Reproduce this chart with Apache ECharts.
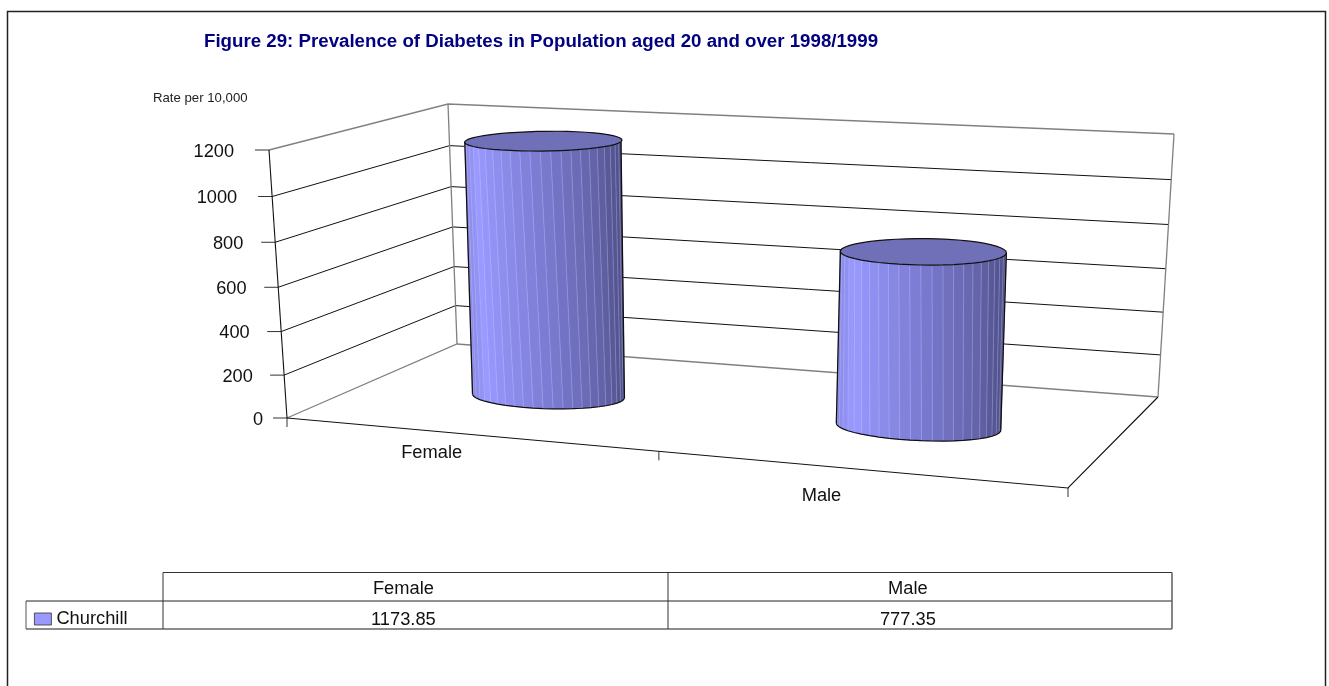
<!DOCTYPE html>
<html>
<head>
<meta charset="utf-8">
<style>html,body{margin:0;padding:0;background:#fff}#c{width:1329px;height:686px}</style>
<script src="https://cdn.jsdelivr.net/npm/echarts@6/dist/echarts.min.js"></script>
</head>
<body>
<div id="c"></div>
<script>
const categories = ['Female', 'Male'];
const seriesName = 'Churchill';
const values = [1173.85, 777.35];
const yTicks = [0, 200, 400, 600, 800, 1000, 1200];
const titleText = 'Figure 29: Prevalence of Diabetes in Population aged 20 and over 1998/1999';
const yAxisName = 'Rate per 10,000';

const FONT = '"Liberation Sans", Arial, sans-serif';
const GRID = { left: 287, top: 150, width: 781, height: 268 };

// Corners of the perspective box on screen: f/b front/back, l/r left/right, b/t bottom/top
const BOX = {
  flb: [287, 418], frb: [1068, 488], blb: [457, 344], brb: [1158, 397],
  flt: [269, 150], frt: [1083, 188], blt: [448, 104], brt: [1174, 134]
};
const lerp = (a, b, f) => a + (b - a) * f;
const lerpP = (p, q, f) => [lerp(p[0], q[0], f), lerp(p[1], q[1], f)];

// u: 0-1 across categories, t: 0-1 up the value axis, d: 0 front, 1 back
function project(u, t, d) {
  const k = 0.1 * (1 - d);
  const uw = u / (1 + k * (1 - u));
  const tw = t / (1 + 0.05 * (1 - t));
  const bot = lerpP(lerpP(BOX.flb, BOX.frb, uw), lerpP(BOX.blb, BOX.brb, uw), d);
  const top = lerpP(lerpP(BOX.flt, BOX.frt, uw), lerpP(BOX.blt, BOX.brt, uw), d);
  return lerpP(bot, top, tw);
}
function toUT(px, cs) {
  return [(px[0] - cs.x) / cs.width, (cs.y + cs.height - px[1]) / cs.height];
}
const line = (pts, stroke, lineWidth) => ({
  type: 'polyline', shape: { points: pts }, style: { stroke, lineWidth, fill: null }
});
const text = (str, x, y, align, size) => ({
  type: 'text',
  style: { text: str, x, y, textAlign: align, textVerticalAlign: 'middle', fontSize: size, fontFamily: FONT, fill: '#111' }
});

// Value-axis gridlines, ticks and labels
function renderGridline(params, api) {
  const cs = params.coordSys;
  const val = api.value(1);
  const t = toUT(api.coord([0, val]), cs)[1];
  const edge = val === yTicks[0] || val === yTicks[yTicks.length - 1];
  const a = project(0, t, 0), b = project(0, t, 1), c = project(1, t, 1);
  const lab = String(val);
  const right = 234 + 19 * (1 - t) + (lab.length === 3 ? 3 : 0) + (lab.length === 1 ? 10 : 0);
  return {
    type: 'group',
    children: [
      line([a, b, c], edge ? '#808080' : '#111', edge ? 1.3 : 1),
      line([a, [a[0] - 14, a[1]]], '#333', 1),
      text(lab, right, a[1] + 1.5, 'right', 18.2)
    ]
  };
}

// Box edges, category ticks and category labels
function renderFrame(params, api) {
  const cs = params.coordSys;
  const i = api.value(0);
  const u = toUT(api.coord([i, 0]), cs)[0];
  const p = project(u, 0, 0);
  const tick = project(u - 0.25, 0, 0);
  const children = [
    line([tick, [tick[0], tick[1] + 9]], '#333', 1),
    text(categories[i], p[0] - 37, p[1] + 15.2 + 15 * u, 'center', 18.3)
  ];
  if (i === categories.length - 1) {
    const e = project(1, 0, 0);
    children.push(
      line([e, [e[0], e[1] + 9]], '#333', 1),
      line([project(0, 0, 0), project(1, 0, 0), project(1, 0, 1)], '#111', 1.1),
      line([project(0, 0, 0), project(0, 1, 0)], '#111', 1.1),
      line([project(0, 0, 1), project(0, 1, 1)], '#808080', 1.3),
      line([project(1, 0, 1), project(1, 1, 1)], '#808080', 1.3)
    );
  }
  return { type: 'group', children };
}

const SHADE = [[0, [136, 136, 228]], [0.1, [153, 153, 255]], [0.5, [124, 124, 212]], [0.85, [100, 100, 170]], [1, [80, 80, 138]]];
function shade(f) {
  for (let i = 1; i < SHADE.length; i++) {
    if (f <= SHADE[i][0]) {
      const w = (f - SHADE[i - 1][0]) / (SHADE[i][0] - SHADE[i - 1][0]);
      const A = SHADE[i - 1][1], B = SHADE[i][1];
      return 'rgb(' + [0, 1, 2].map(k => Math.round(lerp(A[k], B[k], w))).join(',') + ')';
    }
  }
  return 'rgb(80,80,138)';
}

// One cylinder, standing on the floor at the middle of the depth
function renderCylinder(params, api) {
  const cs = params.coordSys;
  const [u0, t] = toUT(api.coord([api.value(0), api.value(1)]), cs);
  const u = u0 - 0.003;
  const uTop = u + 0.004 * (0.75 - u0);
  const N = 48, rdBase = 0.152, rdTop = 0.195;
  const ruBase = 0.0995 + (u0 - 0.25) * 0.012;
  const ruTop = 0.095 + (u0 - 0.25) * 0.014;
  const base = [], top = [];
  for (let i = 0; i < N; i++) {
    const th = 2 * Math.PI * i / N;
    const c = Math.cos(th), s = Math.sin(th);
    base.push(project(u + ruBase * c, 0, 0.5 - rdBase * s));
    top.push(project(uTop + ruTop * c, t, 0.5 - rdTop * s));
  }
  let L = 0, R = 0;
  base.forEach((p, i) => { if (p[0] < base[L][0]) L = i; if (p[0] > base[R][0]) R = i; });
  const minX = base[L][0], maxX = base[R][0];
  const children = [];
  const front = [];
  for (let i = R; i !== L; i = (i + 1) % N) front.push(i);
  front.push(L);
  for (let n = 0; n < front.length - 1; n++) {
    const i = front[n], j = front[n + 1];
    const f = Math.max(0, Math.min(1, ((base[i][0] + base[j][0]) / 2 - minX) / (maxX - minX)));
    const col = shade(f);
    children.push({
      type: 'polygon', shape: { points: [base[i], base[j], top[j], top[i]] },
      style: { fill: col, stroke: col, lineWidth: 0.6 }
    });
  }
  for (let n = 1; n < front.length - 1; n++) {
    const i = front[n];
    children.push(line([base[i], top[i]], 'rgba(205,205,255,0.42)', 0.7));
  }
  children.push(line(front.map(i => base[i]), '#111', 1.2));
  children.push(line([base[L], top[L]], '#111', 1.3));
  children.push(line([base[R], top[R]], '#111', 1.3));
  children.push({
    type: 'polygon', shape: { points: top },
    style: { fill: '#7070b8', stroke: '#111', lineWidth: 1.2 }
  });
  return { type: 'group', children };
}

// Data table under the chart
const T = { x0: 26, x1: 163, x2: 668, x3: 1172, y0: 572.5, y1: 601, y2: 629 };
function hairline(x1, y1, x2, y2, stroke, w) {
  return { type: 'line', shape: { x1, y1, x2, y2 }, style: { stroke, lineWidth: w } };
}
const tableText = (str, x, y) => ({
  type: 'text',
  style: { text: str, x, y, textAlign: 'center', textVerticalAlign: 'middle', font: '18.3px ' + FONT, fill: '#111' }
});
const cols = [[T.x1, T.x2], [T.x2, T.x3]];
const tableElements = [
  hairline(T.x1, T.y0, T.x3, T.y0, '#333', 1.2),
  hairline(T.x0, T.y1, T.x3, T.y1, '#222', 1.2),
  hairline(T.x0, T.y2, T.x3, T.y2, '#666', 1.6),
  hairline(T.x0, T.y1, T.x0, T.y2, '#555', 1),
  hairline(T.x1, T.y0, T.x1, T.y2, '#333', 1),
  hairline(T.x2, T.y0, T.x2, T.y2, '#333', 1),
  hairline(T.x3, T.y0, T.x3, T.y2, '#666', 1.6)
];
categories.forEach((c, i) => {
  const cx = lerp(cols[i][0], cols[i][1], 0.476);
  tableElements.push(tableText(c, cx, 589));
  tableElements.push(tableText(String(values[i]), cx, 619.5));
});

const chart = echarts.init(document.getElementById('c'), null, { renderer: 'canvas' });
chart.setOption({
  animation: false,
  backgroundColor: '#fff',
  title: {
    text: titleText, left: 199, top: 27.5,
    textStyle: { color: '#000080', fontFamily: FONT, fontWeight: 'bold', fontSize: 18.7 }
  },
  legend: {
    data: [{ name: seriesName, icon: 'rect', itemStyle: { color: '#9999ff', borderColor: '#333', borderWidth: 0.8 } }],
    left: 29, top: 605, itemWidth: 17, itemHeight: 12, itemGap: 7.7,
    textStyle: { fontFamily: FONT, fontSize: 18.3, color: '#111' },
    selectedMode: false
  },
  grid: { left: GRID.left, top: GRID.top, width: GRID.width, height: GRID.height },
  xAxis: { type: 'category', data: categories, show: false },
  yAxis: { type: 'value', min: 0, max: 1200, interval: 200, show: false },
  graphic: {
    elements: [
      { type: 'polyline', shape: { points: [[7.5, 700], [7.5, 11.5], [1325.5, 11.5], [1325.5, 700]] },
        style: { stroke: '#222', lineWidth: 1.5, fill: null }, silent: true },
      { type: 'text', style: { text: yAxisName, x: 153, y: 98, textVerticalAlign: 'middle', font: '13.2px ' + FONT, fill: '#222' }, silent: true }
    ].concat(tableElements)
  },
  series: [
    { type: 'custom', name: 'grid', silent: true, z: 1, renderItem: renderGridline,
      data: yTicks.map(v => [0, v]), encode: { x: 0, y: 1 } },
    { type: 'custom', name: 'frame', silent: true, z: 2, renderItem: renderFrame,
      data: categories.map((c, i) => [i, 0]), encode: { x: 0, y: 1 } },
    { type: 'custom', name: seriesName, silent: true, z: 3, renderItem: renderCylinder,
      itemStyle: { color: '#9999ff', borderColor: '#222', borderWidth: 1 },
      data: values.map((v, i) => [i, v]), encode: { x: 0, y: 1 } }
  ]
});
</script>
</body>
</html>
